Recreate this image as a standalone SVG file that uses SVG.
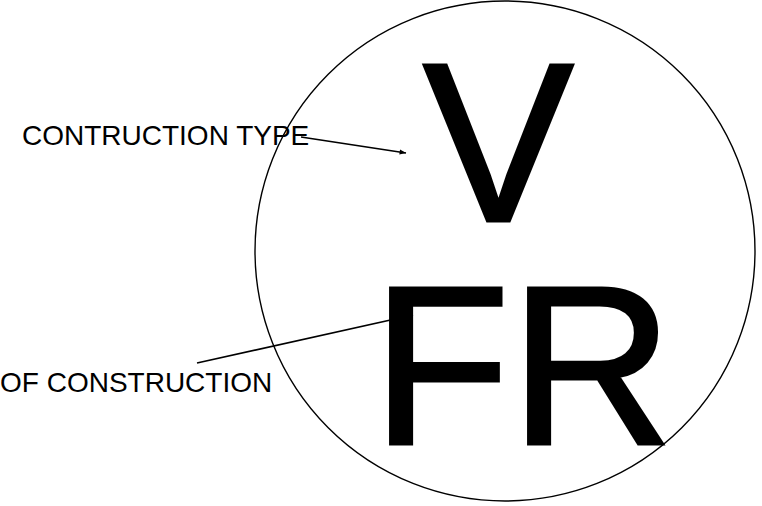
<svg xmlns="http://www.w3.org/2000/svg" width="762" height="506" viewBox="0 0 762 506">
<style>
.lbl{font-family:"Liberation Sans",Arial,sans-serif;font-size:28px;fill:#000}
.big{font-family:"Liberation Sans",Arial,sans-serif;font-size:226px;fill:#000;stroke:#000;stroke-width:3;stroke-linejoin:miter}
.conn{stroke:#000;stroke-width:1.6;fill:none}
</style>
<defs>
<marker id="ah" viewBox="0 0 10 10" refX="10" refY="5" markerWidth="6" markerHeight="4" orient="auto" markerUnits="strokeWidth">
<path d="M0,1 L10,5 L0,9 z" fill="#000"/>
</marker>
</defs>
<rect width="762" height="506" fill="#fff"/>
<g id="circle"><circle cx="505" cy="251" r="250" fill="none" stroke="#000" stroke-width="1.4"/></g>
<g id="v"><text class="big" x="423" y="221">V</text></g>
<g id="fr"><text class="big" x="372" y="444">FR</text></g>
<g id="label-type"><text class="lbl" x="22" y="145">CONTRUCTION TYPE</text></g>
<g id="label-construction"><text class="lbl" x="0" y="392">OF CONSTRUCTION</text></g>
<g id="connectors">
<line class="conn" x1="301" y1="137" x2="406" y2="153" marker-end="url(#ah)"/>
<line class="conn" x1="197" y1="363" x2="413" y2="315" marker-end="url(#ah)"/>
</g>
</svg>
